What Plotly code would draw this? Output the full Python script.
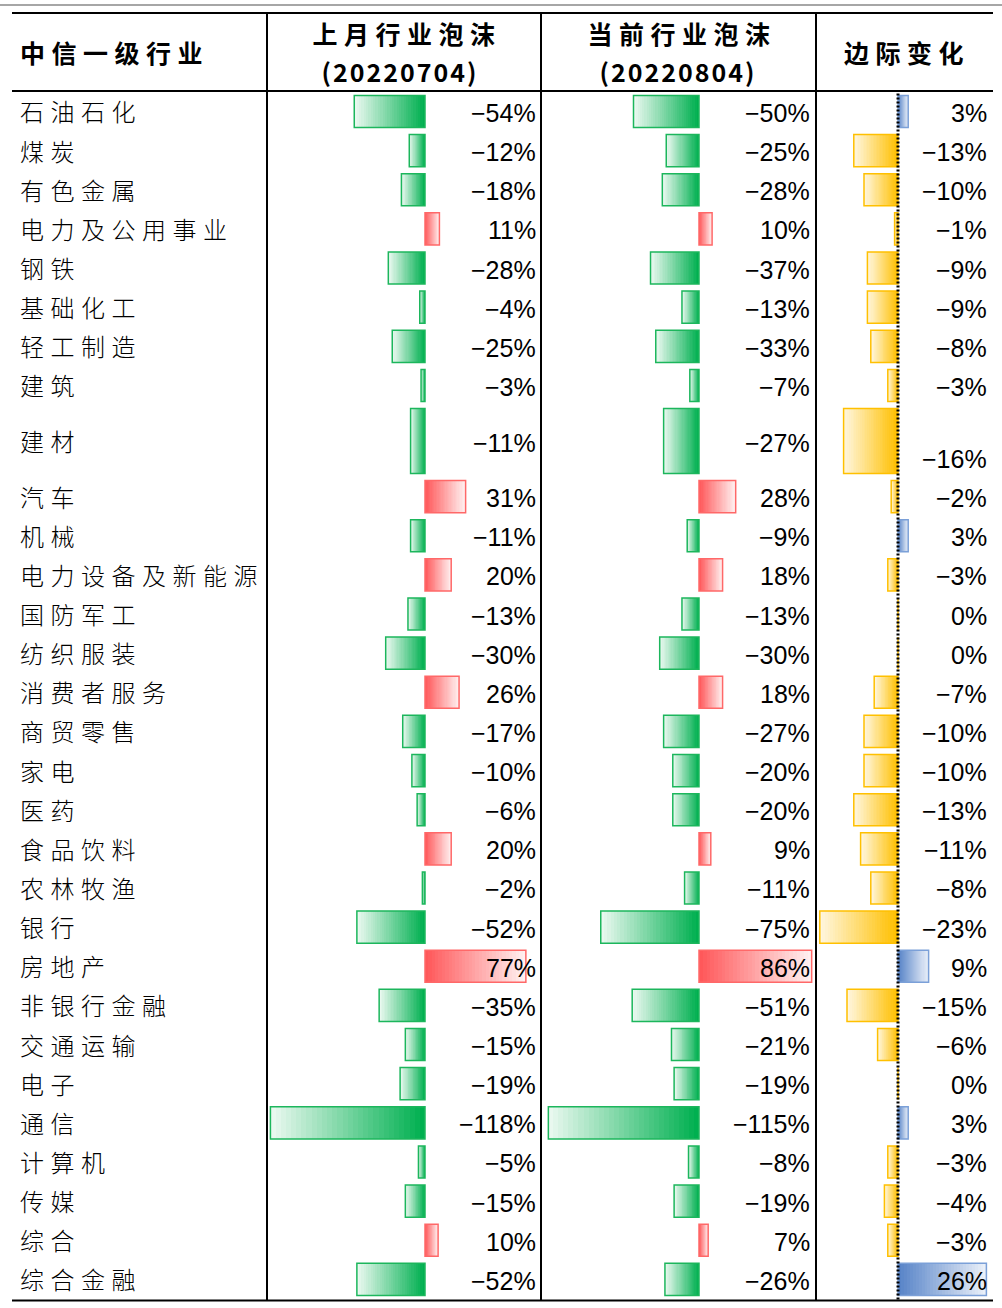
import numpy as np
import plotly.graph_objects as go

# ---------------- data ----------------
industries = ["石油石化", "煤炭", "有色金属", "电力及公用事业", "钢铁", "基础化工", "轻工制造", "建筑",
              "建材", "汽车", "机械", "电力设备及新能源", "国防军工", "纺织服装", "消费者服务", "商贸零售",
              "家电", "医药", "食品饮料", "农林牧渔", "银行", "房地产", "非银行金融", "交通运输", "电子",
              "通信", "计算机", "传媒", "综合", "综合金融"]
prev_bubble = [-54, -12, -18, 11, -28, -4, -25, -3, -11, 31, -11, 20, -13, -30, 26, -17,
               -10, -6, 20, -2, -52, 77, -35, -15, -19, -118, -5, -15, 10, -52]
curr_bubble = [-50, -25, -28, 10, -37, -13, -33, -7, -27, 28, -9, 18, -13, -30, 18, -27,
               -20, -20, 9, -11, -75, 86, -51, -21, -19, -115, -8, -19, 7, -26]
marginal_change = [3, -13, -10, -1, -9, -9, -8, -3, -16, -2, 3, -3, 0, 0, -7, -10,
                   -10, -13, -11, -8, -23, 9, -15, -6, 0, 3, -3, -4, -3, 26]
header_industry = "中信一级行业"
header_prev = ["上月行业泡沫", "(20220704)"]
header_curr = ["当前行业泡沫", "(20220804)"]
header_delta = "边际变化"

# ---------------- layout constants (pixels) ----------------
W, H = 1002, 1308
ROW_TOP = 93.4
ROW_H = 39.14
TALL_ROW = "建材"
TALL_H = 72.0
TABLE_L, TABLE_R = 12, 993
TABLE_TOP = 13
COL_X = [267, 541, 816]
CJK_DY = 2.5  # vertical nudge for CJK text

heights = np.array([TALL_H if n == TALL_ROW else ROW_H for n in industries])
tops = ROW_TOP + np.concatenate([[0.0], np.cumsum(heights)[:-1]])
bottoms = tops + heights
centers = tops + heights / 2
bar_w = heights - 7
bar_c = tops + 2 + bar_w / 2
TABLE_BOTTOM = float(bottoms[-1])

CJK = "Noto Sans CJK SC"
NUM_FONT = "Liberation Sans, Arial, sans-serif"

palettes = {
    "green": dict(base=(0, 176, 80), tip=(233, 248, 239), line="#1CB65C"),
    "red": dict(base=(255, 88, 90), tip=(255, 240, 240), line="#FF6868"),
    "yellow": dict(base=(255, 192, 0), tip=(255, 246, 222), line="#FFC000"),
    "blue": dict(base=(88, 132, 200), tip=(234, 240, 249), line="#7BA0D8"),
}

columns = [
    dict(vals=prev_bubble, ax="x", dom=(267, 541), zero=425, scale=1.31, pos="red", neg="green",
         tx=538, bottom_align=False),
    dict(vals=curr_bubble, ax="x2", dom=(541, 816), zero=699, scale=1.31, pos="red", neg="green",
         tx=812, bottom_align=False),
    dict(vals=marginal_change, ax="x3", dom=(816, 993), zero=898, scale=3.4, pos="blue", neg="yellow",
         tx=989, bottom_align=True),
]


def mix(c1, c2, t):
    r = [round(c1[i] + (c2[i] - c1[i]) * t) for i in range(3)]
    return "rgb(%d,%d,%d)" % tuple(r)


fig = go.Figure()
N = 30
layout_axes = {}
for ci, col in enumerate(columns):
    vals = np.array(col["vals"], dtype=float)
    pals = [palettes[col["pos"]] if v > 0 else palettes[col["neg"]] for v in vals]
    # gradient: longest (lightest) first, shorter & more saturated on top
    for k in range(N):
        frac = (N - k) / N
        t = (N - 1 - k) / (N - 1)  # 1 -> tip colour, 0 -> base colour
        fig.add_trace(go.Bar(
            orientation="h", y=bar_c, x=vals * frac, width=bar_w,
            marker=dict(color=[mix(p["base"], p["tip"], t) for p in pals], line=dict(width=0)),
            xaxis=col["ax"], yaxis="y", hoverinfo="skip", showlegend=False))
    fig.add_trace(go.Bar(
        orientation="h", y=bar_c, x=vals, width=bar_w,
        marker=dict(color="rgba(0,0,0,0)", line=dict(color=[p["line"] for p in pals], width=1.5)),
        xaxis=col["ax"], yaxis="y", hoverinfo="skip", showlegend=False))
    d0, d1 = col["dom"]
    rng = [(d0 - col["zero"]) / col["scale"], (d1 - col["zero"]) / col["scale"]]
    name = "xaxis" if ci == 0 else "xaxis%d" % (ci + 1)
    layout_axes[name] = dict(domain=[d0 / W, d1 / W], range=rng, visible=False, fixedrange=True,
                             anchor="y")
    # value labels
    for i, v in enumerate(col["vals"]):
        txt = ("−%d%%" % abs(v)) if v < 0 else ("%d%%" % v)
        yy = bottoms[i] - ROW_H / 2 if col["bottom_align"] else centers[i]
        fig.add_annotation(x=col["tx"] / W, xref="paper", y=yy, yref="y", text=txt,
                           xanchor="right", yanchor="middle", showarrow=False,
                           font=dict(family=NUM_FONT, size=25, color="#000"))

# pixel-positioned text axis
layout_axes["xaxis4"] = dict(domain=[0, 1], range=[0, W], visible=False, fixedrange=True, anchor="y")

# row labels
fig.add_trace(go.Scatter(x=[20] * len(industries), y=centers + CJK_DY, text=industries, mode="text",
                         textposition="middle right", xaxis="x4", yaxis="y",
                         textfont=dict(family=CJK, size=24, color="#000", weight=300),
                         hoverinfo="skip", showlegend=False))
# headers
fig.add_trace(go.Scatter(x=[20], y=[54 + CJK_DY], text=[header_industry], mode="text",
                         textposition="middle right", xaxis="x4", yaxis="y",
                         textfont=dict(family=CJK, size=25, color="#000", weight="bold"),
                         hoverinfo="skip", showlegend=False))
fig.add_trace(go.Scatter(x=[407, 682, 907], y=[35 + CJK_DY, 35 + CJK_DY, 54 + CJK_DY],
                         text=[header_prev[0], header_curr[0], header_delta], mode="text",
                         textposition="middle center", xaxis="x4", yaxis="y",
                         textfont=dict(family=CJK, size=25, color="#000", weight="bold"),
                         hoverinfo="skip", showlegend=False))
fig.add_trace(go.Scatter(x=[400, 678], y=[73 + CJK_DY, 73 + CJK_DY],
                         text=[header_prev[1], header_curr[1]], mode="text",
                         textposition="middle center", xaxis="x4", yaxis="y",
                         textfont=dict(family=CJK, size=25, color="#000", weight="bold"),
                         hoverinfo="skip", showlegend=False))

# table lines
shapes = []
shapes.append(dict(type="line", xref="paper", yref="y", x0=0, x1=1, y0=5, y1=5,
                   line=dict(color="#A6A6A6", width=2)))
for yy in [TABLE_TOP, 91, TABLE_BOTTOM]:
    shapes.append(dict(type="line", xref="paper", yref="y", x0=TABLE_L / W, x1=TABLE_R / W, y0=yy, y1=yy,
                       line=dict(color="#000", width=2)))
for xx in COL_X:
    shapes.append(dict(type="line", xref="paper", yref="y", x0=xx / W, x1=xx / W, y0=TABLE_TOP,
                       y1=TABLE_BOTTOM, line=dict(color="#000", width=2)))
# axis line of marginal-change column
shapes.append(dict(type="line", xref="x3", yref="y", x0=0, x1=0, y0=ROW_TOP, y1=TABLE_BOTTOM,
                   line=dict(color="#000", width=3, dash="2px,2px")))

fig.update_layout(
    width=W, height=H, margin=dict(l=0, r=0, t=0, b=0),
    paper_bgcolor="white", plot_bgcolor="rgba(0,0,0,0)",
    barmode="overlay", bargap=0,
    yaxis=dict(domain=[0, 1], range=[H, 0], visible=False, fixedrange=True),
    shapes=shapes, showlegend=False,
    **layout_axes,
)

js = """
document.body.style.margin = '0';
document.querySelectorAll('.textpoint text').forEach(function(t){
  var s = t.textContent;
  if (/[\\u4e00-\\u9fff]/.test(s)) { t.style.letterSpacing = '6.5px'; }
  else if (/^\\(\\d+\\)$/.test(s)) { t.style.letterSpacing = '2px'; }
});
"""
fig.write_html("out.html", post_script=js, config={"displayModeBar": False, "staticPlot": True})
